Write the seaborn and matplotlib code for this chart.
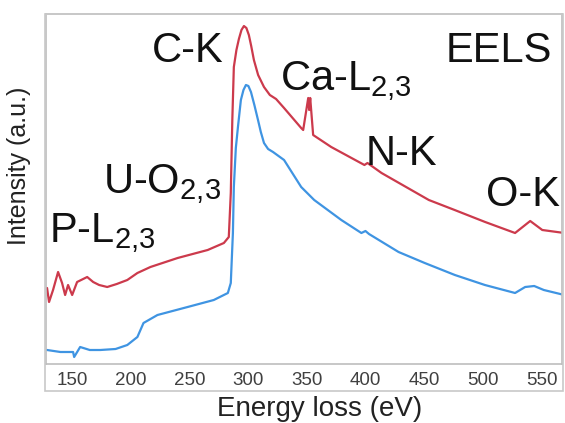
import numpy as np
import pandas as pd
import matplotlib
matplotlib.use("Agg")
import matplotlib.pyplot as plt
import seaborn as sns
from matplotlib.patches import Rectangle

# EELS spectra (arbitrary intensity units, offset for clarity)
red_energy = [128.6, 130.3, 133.7, 138.0, 141.4, 144.0, 146.5, 150.0, 154.2, 162.8,
              167.9, 173.0, 179.9, 188.0, 197.0, 205.6, 216.7, 239.9, 265.5, 279.3,
              283.5, 285.2, 286.5, 287.8, 290.0, 292.1, 294.3, 296.4, 298.5, 300.6,
              302.6, 304.9, 308.5, 313.5, 318.5, 323.8, 330.6, 345.2, 346.9, 351.2,
              352.0, 352.9, 355.4, 370.8, 399.1, 401.7, 413.7, 454.0, 476.0, 502.0,
              527.5, 540.4, 550.7, 569.5]
red_intensity = [1.10, 0.82, 1.06, 1.42, 1.20, 0.96, 1.16, 0.96, 1.22, 1.32,
                 1.22, 1.16, 1.12, 1.18, 1.26, 1.40, 1.52, 1.70, 1.86, 2.00,
                 2.12, 3.00, 4.46, 5.52, 5.86, 6.08, 6.26, 6.34, 6.30, 6.16,
                 5.94, 5.66, 5.36, 5.12, 4.96, 4.88, 4.70, 4.30, 4.26, 4.90,
                 4.66, 4.90, 4.16, 3.92, 3.56, 3.60, 3.40, 2.86, 2.66, 2.42,
                 2.20, 2.44, 2.26, 2.20]

blue_energy = [128.6, 140.0, 150.8, 151.7, 156.8, 165.0, 174.0, 187.0, 197.0, 205.6,
               210.8, 222.7, 248.4, 270.7, 282.7, 285.2, 287.0, 287.8, 289.5, 291.3,
               293.8, 296.0, 298.1, 300.2, 302.4, 305.3, 308.4, 310.8, 313.5, 317.0,
               321.2, 330.6, 345.2, 356.3, 379.4, 396.5, 400.0, 403.0, 428.2, 450.5,
               476.2, 501.8, 527.5, 536.1, 543.8, 552.0, 569.5]
blue_intensity = [-0.14, -0.18, -0.18, -0.28, -0.08, -0.14, -0.14, -0.12, -0.04, 0.12,
                  0.40, 0.56, 0.72, 0.86, 1.00, 1.20, 2.20, 3.12, 3.90, 4.32,
                  4.86, 5.06, 5.16, 5.14, 5.02, 4.76, 4.46, 4.22, 4.00, 3.88,
                  3.82, 3.66, 3.12, 2.86, 2.46, 2.20, 2.24, 2.18, 1.82, 1.60,
                  1.36, 1.16, 1.00, 1.12, 1.14, 1.06, 0.96]

x_ticks = [150, 200, 250, 300, 350, 400, 450, 500, 550]
y_ticks = [0, 1, 2, 3, 4, 5, 6]

red_df = pd.DataFrame({"energy": red_energy, "intensity": red_intensity})
blue_df = pd.DataFrame({"energy": blue_energy, "intensity": blue_intensity})

sns.set_style("white")
plt.rcParams["font.family"] = ["Liberation Sans", "DejaVu Sans"]
plt.rcParams["mathtext.default"] = "regular"

W, H = 565, 423
fig = plt.figure(figsize=(W / 100, H / 100), dpi=100)
ax = fig.add_axes([46 / W, (H - 364) / H, (562 - 46) / W, (364 - 14) / H])

red_c = "#cc3a4c"
blue_c = "#3f94e2"
sns.lineplot(data=red_df, x="energy", y="intensity", ax=ax, color=red_c,
             linewidth=1.6, estimator=None, sort=False)
sns.lineplot(data=blue_df, x="energy", y="intensity", ax=ax, color=blue_c,
             linewidth=1.6, estimator=None, sort=False)

ax.set_xlim(127.7, 567.5)
ax.set_ylim(-0.42, 6.58)
ax.set_xticks(x_ticks)
ax.set_yticks(y_ticks)
ax.set_yticklabels([])
ax.tick_params(axis="x", labelsize=13.5, colors="#404040", length=3, width=0.8,
               pad=3, direction="out")
ax.tick_params(axis="y", length=2, width=0.8, colors="#888888", direction="in")
for s in ax.spines.values():
    s.set_color("#bdbdbd")
    s.set_linewidth(1.2)
ax.set_xlabel("")
ax.set_ylabel("")

# outer frame enclosing the tick labels
fig.add_artist(Rectangle((45 / W, (H - 391) / H), (563 - 45) / W, (391 - 14) / H,
                         transform=fig.transFigure, fill=False,
                         edgecolor="#c8c8c8", linewidth=1.2))

fig.text(320 / W, 1 - 409 / H, "Energy loss (eV)", ha="center", va="center",
         fontsize=20, color="#222222")
fig.text(19 / W, 1 - 166 / H, "Intensity (a.u.)", ha="center", va="center",
         rotation=90, fontsize=18, color="#222222")

lab = dict(fontsize=30, color="#111111", ha="left", va="baseline")
fig.text(152 / W, 1 - 62 / H, "C-K", **lab)
fig.text(446 / W, 1 - 62 / H, "EELS", **lab)
fig.text(280 / W, 1 - 90 / H, r"Ca-L$_{2{,}3}$", **lab)
fig.text(366 / W, 1 - 165 / H, "N-K", **lab)
fig.text(486 / W, 1 - 206 / H, "O-K", **lab)
fig.text(103 / W, 1 - 193 / H, r"U-O$_{2{,}3}$", **lab)
fig.text(49 / W, 1 - 242 / H, r"P-L$_{2{,}3}$", **lab)

fig.savefig("out.png", dpi=100)
